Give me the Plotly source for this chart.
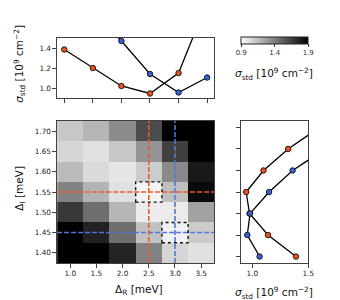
import plotly.graph_objects as go

# ---------------- data ----------------
delta_R = [1.0, 1.5, 2.0, 2.5, 3.0, 3.5]            # meV (x)
delta_I = [1.40, 1.45, 1.50, 1.55, 1.60, 1.65, 1.70]  # meV (y)
# sigma_std [1e9 cm^-2], rows follow delta_I, columns follow delta_R
row_140 = [2.20, 2.10, 1.76, 1.39, 1.065, 1.02]
row_145 = [2.05, 1.77, 1.47, 1.14, 0.955, 1.105]
row_150 = [1.68, 1.47, 1.19, 0.975, 0.98, 1.27]
row_155 = [1.385, 1.20, 1.02, 0.945, 1.15, 1.86]
row_160 = [1.17, 1.045, 1.00, 1.10, 1.36, 1.80]
row_165 = [1.06, 1.02, 1.12, 1.32, 1.65, 2.00]
row_170 = [1.12, 1.19, 1.35, 1.60, 2.10, 2.20]
sigma = [row_140, row_145, row_150, row_155, row_160, row_165, row_170]

cut_orange_I = 1.55   # horizontal cut (top panel, orange)
cut_blue_I = 1.45     # horizontal cut (top panel, blue)
cut_orange_R = 2.5    # vertical cut (right panel, orange)
cut_blue_R = 3.0      # vertical cut (right panel, blue)
cbar_ticks = [0.9, 1.4, 1.9]

# ---------------- style ----------------
FONT = "DejaVu Sans"
ORANGE_LINE = "#f05a28"
BLUE_LINE = "#5276dc"
ORANGE_MK = "#e8501e"
BLUE_MK = "#3560d4"
FRAME = "#404040"
W, H = 340, 300

def px_x(p):
    return p / W

def px_y(p):
    return 1 - p / H

iO_I = delta_I.index(cut_orange_I)
iB_I = delta_I.index(cut_blue_I)
jO_R = delta_R.index(cut_orange_R)
jB_R = delta_R.index(cut_blue_R)

top_orange = sigma[iO_I]
top_blue = sigma[iB_I]
right_orange = [r[jO_R] for r in sigma]
right_blue = [r[jB_R] for r in sigma]

fig = go.Figure()

fig.add_trace(go.Heatmap(
    x=delta_R, y=delta_I, z=sigma, zmin=0.9, zmax=1.9,
    colorscale=[[0, "#ffffff"], [1, "#000000"]],
    xaxis="x", yaxis="y",
    colorbar=dict(
        orientation="h", x=px_x(271.5), xanchor="center",
        y=px_y(29.3), yanchor="top", len=68.7 / W, lenmode="fraction",
        thickness=6.5, thicknessmode="pixels",
        outlinecolor="#222", outlinewidth=1,
        tickvals=cbar_ticks, ticktext=["0.9", "1.4", "1.9"],
        ticks="outside", ticklen=2.5, tickcolor="#333",
        tickfont=dict(family=FONT, size=7, color="#333"),
        xpad=0, ypad=0,
    ),
))

def line_trace(x, y, fill, xa, ya):
    return go.Scatter(
        x=x, y=y, mode="lines+markers", xaxis=xa, yaxis=ya,
        line=dict(color="black", width=1.3),
        marker=dict(size=5.5, color=fill, line=dict(color="#111", width=0.9)),
        showlegend=False, cliponaxis=True,
    )

fig.add_trace(line_trace(delta_R, top_orange, ORANGE_MK, "x2", "y2"))
fig.add_trace(line_trace(delta_R, top_blue, BLUE_MK, "x2", "y2"))
fig.add_trace(line_trace(right_orange, delta_I, ORANGE_MK, "x3", "y3"))
fig.add_trace(line_trace(right_blue, delta_I, BLUE_MK, "x3", "y3"))

axis_common = dict(
    showline=True, mirror=True, linecolor=FRAME, linewidth=1.3,
    ticks="outside", ticklen=3.5, tickwidth=1, tickcolor=FRAME,
    tickfont=dict(family=FONT, size=7.3, color="#222"),
    showgrid=False, zeroline=False, fixedrange=True,
)

hm_x = [px_x(50), px_x(210)]
hm_y = [px_y(255), px_y(113)]

fig.update_layout(
    width=W, height=H, margin=dict(l=0, r=0, t=0, b=0),
    paper_bgcolor="white", plot_bgcolor="white",
    font=dict(family=FONT, color="#222"),
    xaxis=dict(axis_common, domain=hm_x, range=[0.75, 3.75],
               tickvals=delta_R, ticktext=[f"{v:.1f}" for v in delta_R], anchor="y"),
    yaxis=dict(axis_common, domain=hm_y, range=[1.375, 1.725],
               tickvals=delta_I, ticktext=[f"{v:.2f}" for v in delta_I], anchor="x"),
    xaxis2=dict(axis_common, domain=hm_x, range=[0.875, 3.625],
                tickvals=delta_R, showticklabels=False, anchor="y2"),
    yaxis2=dict(axis_common, domain=[px_y(90), px_y(30)], range=[0.9, 1.5],
                tickvals=[1.0, 1.2, 1.4], ticktext=["1.0", "1.2", "1.4"], anchor="x2"),
    xaxis3=dict(axis_common, domain=[px_x(237.3), px_x(305.7)], range=[0.9, 1.5],
                tickvals=[1.0, 1.5], ticktext=["1.0", "1.5"], anchor="y3"),
    yaxis3=dict(axis_common, domain=hm_y, range=[1.385, 1.715],
                tickvals=delta_I, showticklabels=False, anchor="x3"),
)

shapes = []
dash = "5px,2px"
shapes.append(dict(type="line", xref="x", yref="y", x0=0.75, x1=3.75,
                   y0=cut_orange_I, y1=cut_orange_I,
                   line=dict(color=ORANGE_LINE, width=1.6, dash=dash)))
shapes.append(dict(type="line", xref="x", yref="y", x0=0.75, x1=3.75,
                   y0=cut_blue_I, y1=cut_blue_I,
                   line=dict(color=BLUE_LINE, width=1.6, dash=dash)))
shapes.append(dict(type="line", xref="x", yref="y", x0=cut_orange_R, x1=cut_orange_R,
                   y0=1.375, y1=1.725,
                   line=dict(color=ORANGE_LINE, width=1.6, dash=dash)))
shapes.append(dict(type="line", xref="x", yref="y", x0=cut_blue_R, x1=cut_blue_R,
                   y0=1.375, y1=1.725,
                   line=dict(color=BLUE_LINE, width=1.6, dash=dash)))
for (cx, cy) in [(cut_orange_R, cut_orange_I), (cut_blue_R, cut_blue_I)]:
    shapes.append(dict(type="rect", xref="x", yref="y",
                       x0=cx - 0.25, x1=cx + 0.25, y0=cy - 0.025, y1=cy + 0.025,
                       line=dict(color="#111", width=1.4, dash="dot")))
fig.update_layout(shapes=shapes)

sig_label = "<i>σ</i><sub>std</sub> [10<sup>9</sup> cm<sup>−2</sup>]"
ann = [
    dict(text=sig_label, x=px_x(12), y=px_y(56), textangle=-90, size=10.5),
    dict(text="Δ<sub>I</sub> [meV]", x=px_x(12), y=px_y(180), textangle=-90, size=10.5),
    dict(text="Δ<sub>R</sub> [meV]", x=px_x(133), y=px_y(282), textangle=0, size=10.5),
    dict(text=sig_label, x=px_x(271), y=px_y(285), textangle=0, size=10.5),
    dict(text=sig_label, x=px_x(271), y=px_y(66), textangle=0, size=10.5),
]
fig.update_layout(annotations=[
    dict(text=a["text"], x=a["x"], y=a["y"], xref="paper", yref="paper",
         xanchor="center", yanchor="middle", textangle=a["textangle"],
         showarrow=False, font=dict(family=FONT, size=a["size"], color="#111"))
    for a in ann
])

fig.write_html("out.html")
